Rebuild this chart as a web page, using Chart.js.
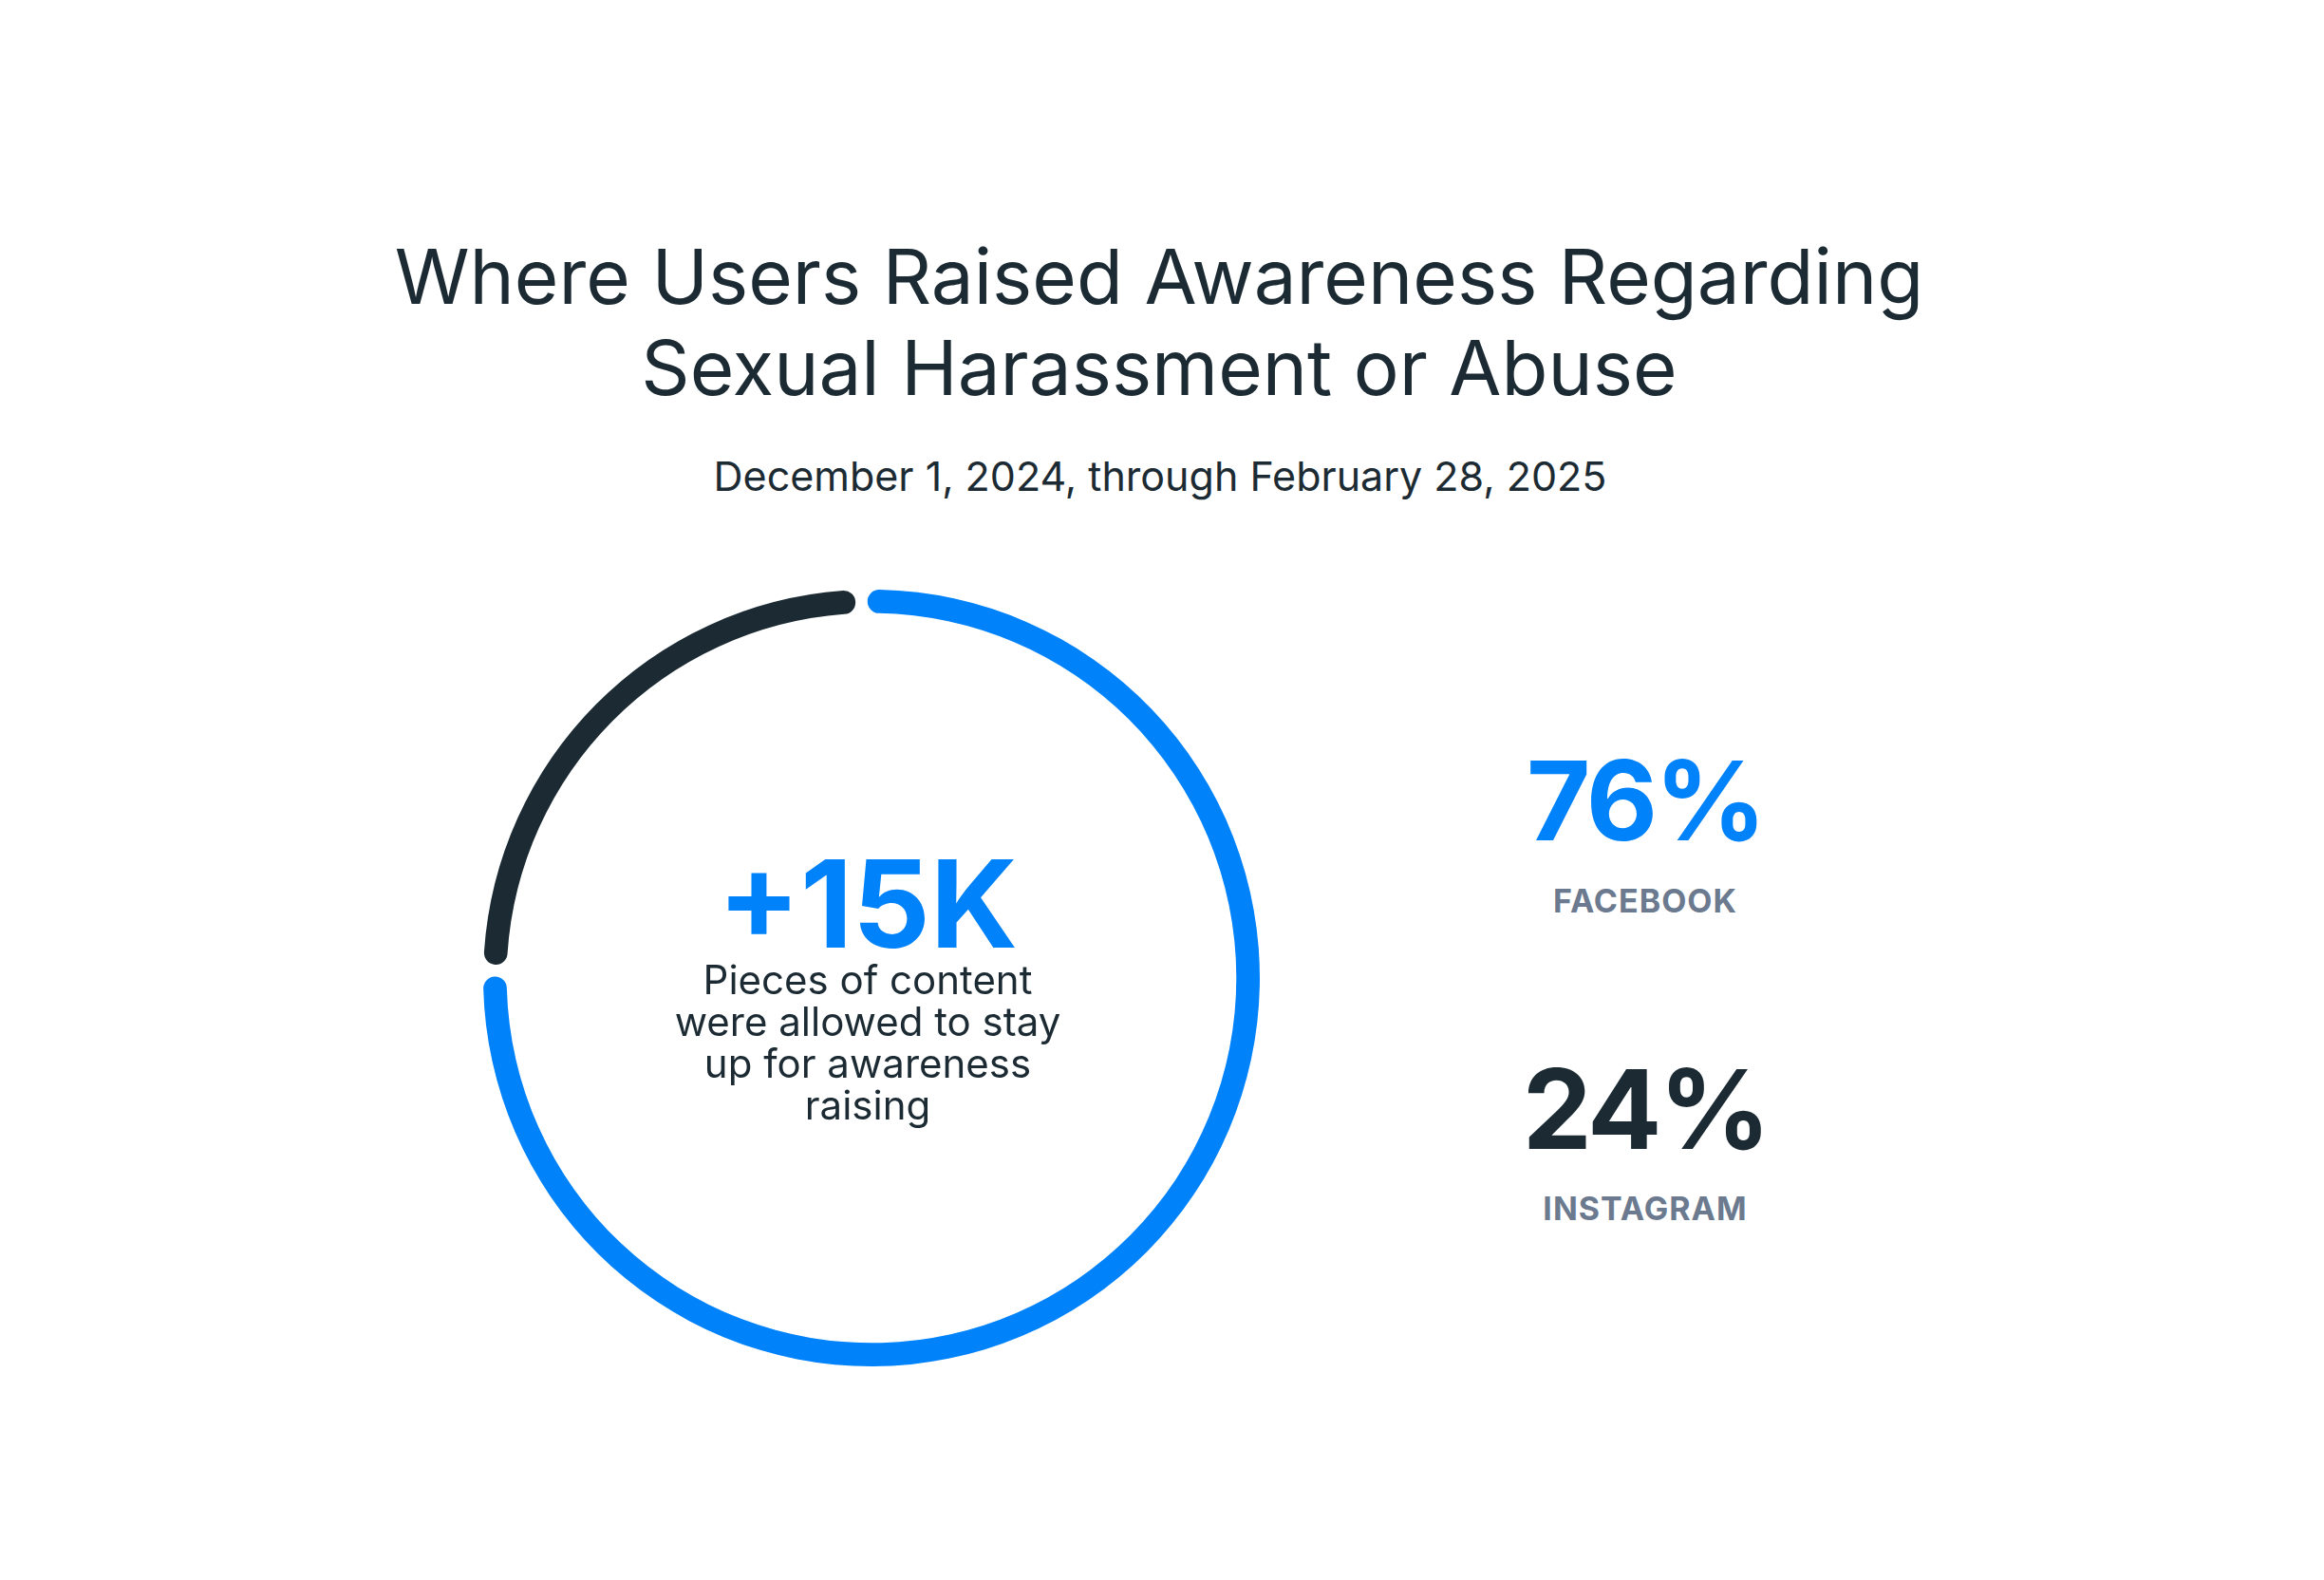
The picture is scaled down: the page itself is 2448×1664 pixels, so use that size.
<!DOCTYPE html>
<html>
<head>
<meta charset="utf-8">
<script src="https://cdn.jsdelivr.net/npm/chart.js@4/dist/chart.umd.min.js"></script>
<style>
  body { margin:0; width:2448px; height:1664px; background:#fff; font-family: Inter, "Noto Sans", sans-serif; color:#1c2b33; position:relative; overflow:hidden; }
  .t { position:absolute; left:0; width:100%; text-align:center; white-space:nowrap; }
  .c { position:absolute; text-align:center; white-space:nowrap; transform:translateX(-50%); }
  #wrap { position:absolute; left:498px; top:610px; width:840px; height:840px; }
</style>
</head>
<body>
<div class="t" style="top:243px;left:-3px;font-size:80px;line-height:96px;">Where Users Raised Awareness Regarding<br>Sexual Harassment or Abuse</div>
<div class="t" style="top:475px;left:-2px;font-size:43px;">December 1, 2024, through February 28, 2025</div>
<div id="wrap"><canvas id="myChart"></canvas></div>
<div class="c" style="left:914px;top:888px;font-size:128px;font-weight:700;color:#0082fb;line-height:128px;">+15K</div>
<div class="c" style="left:914px;top:1010px;font-size:42px;line-height:44px;">Pieces of content<br>were allowed to stay<br>up for awareness<br>raising</div>
<div class="c" id="fbPct" style="left:1733px;top:780px;font-size:116px;font-weight:700;color:#0082fb;line-height:126px;letter-spacing:-3px;"></div>
<div class="c" id="fbLbl" style="left:1733px;top:928px;font-size:34px;font-weight:700;color:#6b7a8f;letter-spacing:1px;"></div>
<div class="c" id="igPct" style="left:1733px;top:1105px;font-size:116px;font-weight:700;color:#1c2b33;line-height:126px;letter-spacing:-3px;"></div>
<div class="c" id="igLbl" style="left:1733px;top:1252px;font-size:34px;font-weight:700;color:#6b7a8f;letter-spacing:1px;"></div>
<script>
const platforms = ['FACEBOOK', 'INSTAGRAM'];
const shares = [76, 24];
const colors = ['#0082fb', '#1c2b33'];

document.getElementById('fbPct').textContent = shares[0] + '%';
document.getElementById('fbLbl').textContent = platforms[0];
document.getElementById('igPct').textContent = shares[1] + '%';
document.getElementById('igLbl').textContent = platforms[1];

new Chart(document.getElementById('myChart'), {
    type: 'doughnut',
    data: {
        labels: platforms,
        datasets: [{
            data: shares,
            backgroundColor: colors,
            borderWidth: 0,
            borderRadius: 13,
            spacing: 8
        }]
    },
    options: {
        responsive: true,
        maintainAspectRatio: false,
        animation: false,
        rotation: -2,
        cutout: '93.9%',
        layout: { padding: 11 },
        plugins: { legend: { display: false }, tooltip: { enabled: false } }
    }
});
</script>
</body>
</html>
